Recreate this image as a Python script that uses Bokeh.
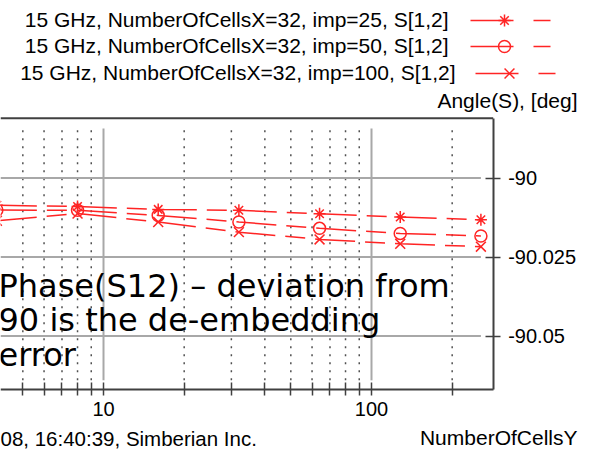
import math
from bokeh.plotting import figure
from bokeh.models import Range1d, FixedTicker, Label, LogAxis, LinearAxis
from bokeh.embed import file_html
from bokeh.resources import INLINE

# ---------------- data ----------------
cells_y = [4, 8, 16, 32, 64, 128, 256]
phase_imp25 = [-90.0086, -90.0090, -90.0099, -90.0102, -90.0113, -90.0123, -90.0132]
phase_imp50 = [-90.0101, -90.0102, -90.0118, -90.0139, -90.0159, -90.0175, -90.0183]
phase_imp100 = [-90.0135, -90.0112, -90.0139, -90.0171, -90.0194, -90.0208, -90.0217]
series_labels = [
    "15 GHz, NumberOfCellsX=32, imp=25, S[1,2]",
    "15 GHz, NumberOfCellsX=32, imp=50, S[1,2]",
    "15 GHz, NumberOfCellsX=32, imp=100, S[1,2]",
]
series_markers = ["asterisk", "circle", "x"]
x_ticks = [5, 6, 7, 8, 9, 10, 20, 30, 40, 50, 60, 70, 80, 90, 100, 200]
x_major = [10, 100]
y_ticks = [-90.0, -90.025, -90.05]
y_tick_labels = ["-90", "-90.025", "-90.05"]

# ---------------- ranges / layout ----------------
W, H = 589, 450
X_START, X_END = 4.127, 650.8          # whole canvas (log axis)
Y_START, Y_END = -90.0862, -89.9438    # whole canvas
BOX_X_END = 284.5                      # right edge of plot box
BOX_Y_LO, BOX_Y_HI = -90.0670, -89.9811
GRID_Y_LO, GRID_Y_HI = -90.0640, -89.9843
RED = "#ff2424"
DARK = "#404040"
SANS = "Liberation Sans"


def fx(px):
    lo, hi = math.log10(X_START), math.log10(X_END)
    return 10 ** (lo + px / W * (hi - lo))


def fy(py):
    return Y_END - py / H * (Y_END - Y_START)


def text_y(baseline_px, size_px):
    # place a label so that its baseline lands on baseline_px
    return fy(baseline_px - 0.36 * size_px)


p = figure(width=W, height=H, x_axis_type="log", x_axis_location=None, y_axis_location=None,
           x_range=Range1d(X_START, X_END), y_range=Range1d(Y_START, Y_END),
           output_backend="svg", toolbar_location=None, min_border=0)
p.grid.visible = False
p.outline_line_color = None

# ---------------- grid lines (inset like the original) ----------------
minor_x = [t for t in x_ticks if t not in x_major]
p.segment(x0=minor_x, y0=[GRID_Y_LO] * len(minor_x), x1=minor_x, y1=[GRID_Y_HI] * len(minor_x),
          line_color="#505050", line_width=1.5, line_dash="2 6")
p.segment(x0=x_major, y0=[GRID_Y_LO] * len(x_major), x1=x_major, y1=[GRID_Y_HI] * len(x_major),
          line_color="#a8a8a8", line_width=2)
p.segment(x0=[X_START] * len(y_ticks), y0=y_ticks, x1=[cells_y[-1]] * len(y_ticks), y1=y_ticks,
          line_color="#a8a8a8", line_width=2)

# ---------------- data ----------------
marker_sizes = [12, 12, 14]
for vals, mk, ms in zip([phase_imp25, phase_imp50, phase_imp100], series_markers, marker_sizes):
    p.line(cells_y, vals, line_color=RED, line_width=1.5, line_dash="40 10 20 10")
    p.scatter(cells_y, vals, marker=mk, size=ms, line_color=RED, fill_color=None, line_width=1.5)

# top border of the plot box
p.segment(x0=[X_START], y0=[BOX_Y_HI], x1=[BOX_X_END], y1=[BOX_Y_HI], line_color=DARK, line_width=2)

# ---------------- axes (fixed on the plot box) ----------------
xa = LogAxis(fixed_location=BOX_Y_LO, bounds=(X_START, BOX_X_END),
             ticker=FixedTicker(ticks=x_ticks, minor_ticks=[]))
xa.major_label_overrides = {t: (str(t) if t in x_major else "") for t in x_ticks}
xa.axis_line_color = DARK
xa.axis_line_width = 2
xa.major_tick_line_color = DARK
xa.major_tick_line_width = 1.5
xa.major_tick_in = 7
xa.major_tick_out = 6
xa.minor_tick_line_color = None
xa.major_label_standoff = 6
xa.major_label_text_font = SANS
xa.major_label_text_font_size = "20px"
xa.major_label_text_color = "black"
p.add_layout(xa, "below")

ya = LinearAxis(fixed_location=BOX_X_END, bounds=(BOX_Y_LO, BOX_Y_HI),
                ticker=FixedTicker(ticks=y_ticks, minor_ticks=[]))
ya.major_label_overrides = dict(zip(y_ticks, y_tick_labels))
ya.axis_line_color = DARK
ya.axis_line_width = 2
ya.major_tick_line_color = DARK
ya.major_tick_line_width = 1.5
ya.major_tick_in = 8
ya.major_tick_out = 7
ya.minor_tick_line_color = None
ya.major_label_standoff = 8
ya.major_label_text_font = SANS
ya.major_label_text_font_size = "20px"
ya.major_label_text_color = "black"
p.add_layout(ya, "right")

# ---------------- legend (text left, sample right) ----------------
row_baseline = [27, 53, 80]
text_right = [448, 448, 455]
sample_x0 = [470, 470, 475]
for lab, mk, ms, bl, tr, sx in zip(series_labels, series_markers, marker_sizes, row_baseline, text_right, sample_x0):
    ry = bl - 7
    p.segment(x0=[fx(sx), fx(sx + 63)], y0=[fy(ry)] * 2, x1=[fx(sx + 43), fx(sx + 80)], y1=[fy(ry)] * 2,
              line_color=RED, line_width=1.5)
    p.scatter([fx(sx + 34)], [fy(ry)], marker=mk, size=ms, line_color=RED, fill_color=None, line_width=1.5)
    p.add_layout(Label(x=fx(tr), y=text_y(bl, 21), text=lab, text_align="right", text_baseline="alphabetic",
                       text_font=SANS, text_font_size="21px", text_color="black"))

p.add_layout(Label(x=fx(577), y=text_y(108, 21), text="Angle(S), [deg]", text_align="right",
                   text_baseline="alphabetic", text_font=SANS, text_font_size="21px", text_color="black"))

# ---------------- annotation text ----------------
note_lines = ["Phase(S12) \u2013 deviation from", "90 is the de-embedding", "error"]
note_baselines = [297, 331, 366]
for txt, bl in zip(note_lines, note_baselines):
    p.add_layout(Label(x=fx(-2), y=text_y(bl, 32), text=txt, text_font="DejaVu Sans", text_font_size="32px",
                       text_baseline="alphabetic", text_color="black"))

# ---------------- footer ----------------
p.add_layout(Label(x=fx(0), y=text_y(445, 20.5), text="08, 16:40:39, Simberian Inc.", text_align="left",
                   text_baseline="alphabetic", text_font=SANS, text_font_size="20.5px", text_color="black"))
p.add_layout(Label(x=fx(577), y=text_y(445, 21), text="NumberOfCellsY", text_align="right",
                   text_baseline="alphabetic", text_font=SANS, text_font_size="21px", text_color="black"))

open("out.html", "w").write(file_html(p, INLINE))
